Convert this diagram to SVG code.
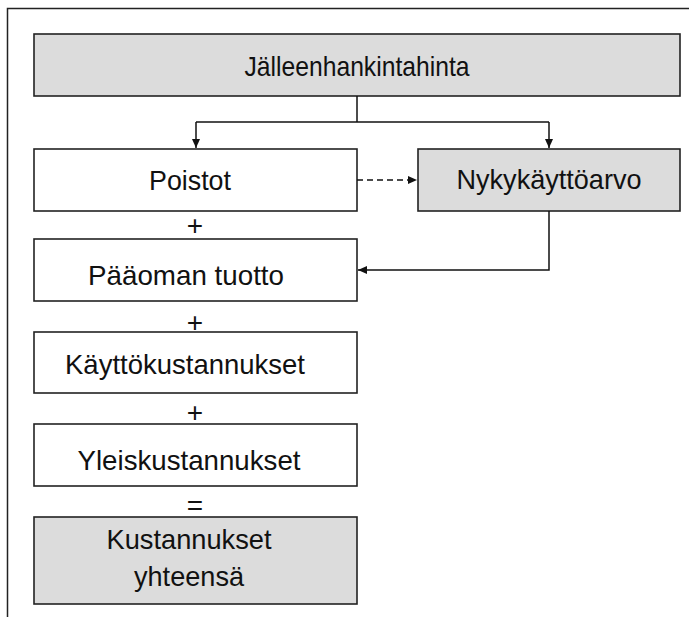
<svg xmlns="http://www.w3.org/2000/svg" width="689" height="617" viewBox="0 0 689 617">
<style>
.box{stroke:#222;stroke-width:1.6;}
.w{fill:#ffffff;}
.g{fill:#dcdcdc;}
.t{font-family:"Liberation Sans",Arial,sans-serif;font-size:28px;fill:#111;text-anchor:middle;}
.ln{stroke:#111;stroke-width:1.5;fill:none;}
</style>
<defs>
<marker id="ah" markerWidth="10" markerHeight="10" refX="9" refY="5" orient="auto" markerUnits="userSpaceOnUse">
<path d="M0,1 L9,5 L0,9 Z" fill="#111"/>
</marker>
</defs>
<rect x="0" y="0" width="689" height="617" fill="#ffffff"/>
<path d="M7.5,617 L7.5,8.5 L689,8.5" stroke="#222" stroke-width="1.5" fill="none"/>
<g id="jalleenhankintahinta">
<rect class="box g" x="34" y="34" width="646" height="62"/>
<text class="t" x="357" y="76" textLength="225" lengthAdjust="spacingAndGlyphs">Jälleenhankintahinta</text>
</g>
<g id="poistot">
<rect class="box w" x="34" y="149" width="323" height="62"/>
<text class="t" x="190" y="190" textLength="82" lengthAdjust="spacingAndGlyphs">Poistot</text>
</g>
<g id="nykykayttoarvo">
<rect class="box g" x="418" y="149" width="262" height="62"/>
<text class="t" x="549" y="189" textLength="185" lengthAdjust="spacingAndGlyphs">Nykykäyttöarvo</text>
</g>
<g id="paaoman">
<rect class="box w" x="34" y="239" width="323" height="62"/>
<text class="t" x="186" y="285" textLength="196" lengthAdjust="spacingAndGlyphs">Pääoman tuotto</text>
</g>
<g id="kayttokustannukset">
<rect class="box w" x="34" y="332" width="323" height="61"/>
<text class="t" x="185" y="374" textLength="240" lengthAdjust="spacingAndGlyphs">Käyttökustannukset</text>
</g>
<g id="yleiskustannukset">
<rect class="box w" x="34" y="424" width="323" height="62"/>
<text class="t" x="189" y="470" textLength="223" lengthAdjust="spacingAndGlyphs">Yleiskustannukset</text>
</g>
<g id="kustannukset">
<rect class="box g" x="34" y="517" width="323" height="87"/>
<text class="t" x="189" y="549" textLength="165" lengthAdjust="spacingAndGlyphs">Kustannukset</text>
<text class="t" x="189" y="586" textLength="110" lengthAdjust="spacingAndGlyphs">yhteensä</text>
</g>
<g id="operators">
<text class="t" x="195" y="235">+</text>
<text class="t" x="195" y="332">+</text>
<text class="t" x="195" y="422">+</text>
<text class="t" x="195" y="515">=</text>
</g>
<g id="connectors">
<path class="ln" d="M357,96 L357,122"/>
<path class="ln" d="M196,122 L549,122"/>
<path class="ln" d="M196,122 L196,148" marker-end="url(#ah)"/>
<path class="ln" d="M549,122 L549,148" marker-end="url(#ah)"/>
<path class="ln" d="M357,180 L417,180" stroke-dasharray="6,4" marker-end="url(#ah)"/>
<path class="ln" d="M549,211 L549,270 L358,270" marker-end="url(#ah)"/>
</g>
</svg>
